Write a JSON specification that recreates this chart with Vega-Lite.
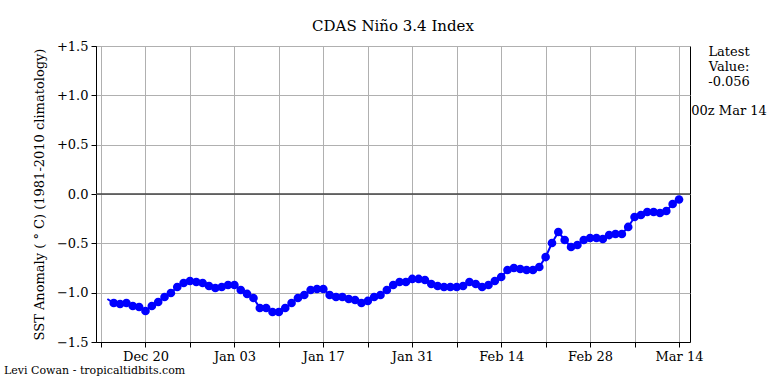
{
  "$schema": "https://vega.github.io/schema/vega-lite/v6.json",
  "width": 594,
  "height": 296,
  "autosize": {"type": "none"},
  "padding": {"left": 96, "top": 46, "right": 78, "bottom": 42},
  "background": "white",
  "title": {"text": "CDAS Niño 3.4 Index", "font": "DejaVu Serif", "fontSize": 15, "fontWeight": "normal", "color": "black", "offset": 6, "anchor": "middle"},
  "config": {
    "font": "DejaVu Serif",
    "view": {"stroke": "black", "strokeWidth": 1},
    "axis": {"gridColor": "#b0b0b0", "gridWidth": 1, "gridOpacity": 1, "domainColor": "black", "tickColor": "black", "tickSize": 5, "labelFont": "DejaVu Serif", "labelFontSize": 13, "labelColor": "black", "titleFont": "DejaVu Serif", "titleFontWeight": "normal", "titleColor": "black"}
  },
  "datasets": {
    "sst": [
    {"date": "2022-12-14", "sst": -1.064},
    {"date": "2022-12-15", "sst": -1.105},
    {"date": "2022-12-16", "sst": -1.115},
    {"date": "2022-12-17", "sst": -1.105},
    {"date": "2022-12-18", "sst": -1.135},
    {"date": "2022-12-19", "sst": -1.145},
    {"date": "2022-12-20", "sst": -1.186},
    {"date": "2022-12-21", "sst": -1.135},
    {"date": "2022-12-22", "sst": -1.095},
    {"date": "2022-12-23", "sst": -1.044},
    {"date": "2022-12-24", "sst": -1.003},
    {"date": "2022-12-25", "sst": -0.943},
    {"date": "2022-12-26", "sst": -0.902},
    {"date": "2022-12-27", "sst": -0.882},
    {"date": "2022-12-28", "sst": -0.892},
    {"date": "2022-12-29", "sst": -0.902},
    {"date": "2022-12-30", "sst": -0.932},
    {"date": "2022-12-31", "sst": -0.953},
    {"date": "2023-01-01", "sst": -0.943},
    {"date": "2023-01-02", "sst": -0.922},
    {"date": "2023-01-03", "sst": -0.922},
    {"date": "2023-01-04", "sst": -0.973},
    {"date": "2023-01-05", "sst": -1.013},
    {"date": "2023-01-06", "sst": -1.054},
    {"date": "2023-01-07", "sst": -1.155},
    {"date": "2023-01-08", "sst": -1.155},
    {"date": "2023-01-09", "sst": -1.196},
    {"date": "2023-01-10", "sst": -1.196},
    {"date": "2023-01-11", "sst": -1.155},
    {"date": "2023-01-12", "sst": -1.105},
    {"date": "2023-01-13", "sst": -1.054},
    {"date": "2023-01-14", "sst": -1.024},
    {"date": "2023-01-15", "sst": -0.973},
    {"date": "2023-01-16", "sst": -0.963},
    {"date": "2023-01-17", "sst": -0.963},
    {"date": "2023-01-18", "sst": -1.024},
    {"date": "2023-01-19", "sst": -1.044},
    {"date": "2023-01-20", "sst": -1.044},
    {"date": "2023-01-21", "sst": -1.064},
    {"date": "2023-01-22", "sst": -1.074},
    {"date": "2023-01-23", "sst": -1.105},
    {"date": "2023-01-24", "sst": -1.084},
    {"date": "2023-01-25", "sst": -1.044},
    {"date": "2023-01-26", "sst": -1.024},
    {"date": "2023-01-27", "sst": -0.973},
    {"date": "2023-01-28", "sst": -0.922},
    {"date": "2023-01-29", "sst": -0.892},
    {"date": "2023-01-30", "sst": -0.892},
    {"date": "2023-01-31", "sst": -0.861},
    {"date": "2023-02-01", "sst": -0.861},
    {"date": "2023-02-02", "sst": -0.872},
    {"date": "2023-02-03", "sst": -0.912},
    {"date": "2023-02-04", "sst": -0.932},
    {"date": "2023-02-05", "sst": -0.943},
    {"date": "2023-02-06", "sst": -0.943},
    {"date": "2023-02-07", "sst": -0.943},
    {"date": "2023-02-08", "sst": -0.932},
    {"date": "2023-02-09", "sst": -0.892},
    {"date": "2023-02-10", "sst": -0.912},
    {"date": "2023-02-11", "sst": -0.943},
    {"date": "2023-02-12", "sst": -0.922},
    {"date": "2023-02-13", "sst": -0.882},
    {"date": "2023-02-14", "sst": -0.841},
    {"date": "2023-02-15", "sst": -0.770},
    {"date": "2023-02-16", "sst": -0.750},
    {"date": "2023-02-17", "sst": -0.760},
    {"date": "2023-02-18", "sst": -0.770},
    {"date": "2023-02-19", "sst": -0.770},
    {"date": "2023-02-20", "sst": -0.740},
    {"date": "2023-02-21", "sst": -0.639},
    {"date": "2023-02-22", "sst": -0.497},
    {"date": "2023-02-23", "sst": -0.385},
    {"date": "2023-02-24", "sst": -0.466},
    {"date": "2023-02-25", "sst": -0.537},
    {"date": "2023-02-26", "sst": -0.517},
    {"date": "2023-02-27", "sst": -0.466},
    {"date": "2023-02-28", "sst": -0.446},
    {"date": "2023-03-01", "sst": -0.446},
    {"date": "2023-03-02", "sst": -0.456},
    {"date": "2023-03-03", "sst": -0.416},
    {"date": "2023-03-04", "sst": -0.405},
    {"date": "2023-03-05", "sst": -0.405},
    {"date": "2023-03-06", "sst": -0.334},
    {"date": "2023-03-07", "sst": -0.233},
    {"date": "2023-03-08", "sst": -0.213},
    {"date": "2023-03-09", "sst": -0.182},
    {"date": "2023-03-10", "sst": -0.182},
    {"date": "2023-03-11", "sst": -0.193},
    {"date": "2023-03-12", "sst": -0.172},
    {"date": "2023-03-13", "sst": -0.101},
    {"date": "2023-03-14", "sst": -0.056}
    ],
    "latest": [{"t": ["Latest", "Value:", "-0.056"]}],
    "stamp": [{"t": "00z Mar 14"}],
    "credit": [{"t": "Levi Cowan - tropicaltidbits.com"}],
    "zero": [{"z": 0}]
  },
  "layer": [
    {"data": {"name": "zero"}, "mark": {"type": "rule", "color": "#444444", "strokeWidth": 1.5},
     "encoding": {"y": {"field": "z", "type": "quantitative", "title": "SST Anomaly ( ° C) (1981-2010 climatology)"}}},
    {"data": {"name": "sst"},
     "mark": {"type": "line", "color": "#0000ff", "strokeWidth": 2},
     "encoding": {
      "x": {
        "field": "date", "type": "temporal",
        "scale": {"type": "utc", "domain": [
          {"year": 2022, "month": 12, "date": 12, "hours": 5, "utc": true},
          {"year": 2023, "month": 3, "date": 15, "hours": 17, "minutes": 30, "utc": true}
        ]},
        "axis": {
          "title": null,
          "grid": true,
          "values": [
            {"year": 2022, "month": 12, "date": 13, "utc": true},
            {"year": 2022, "month": 12, "date": 20, "utc": true},
            {"year": 2022, "month": 12, "date": 27, "utc": true},
            {"year": 2023, "month": 1, "date": 3, "utc": true},
            {"year": 2023, "month": 1, "date": 10, "utc": true},
            {"year": 2023, "month": 1, "date": 17, "utc": true},
            {"year": 2023, "month": 1, "date": 24, "utc": true},
            {"year": 2023, "month": 1, "date": 31, "utc": true},
            {"year": 2023, "month": 2, "date": 7, "utc": true},
            {"year": 2023, "month": 2, "date": 14, "utc": true},
            {"year": 2023, "month": 2, "date": 21, "utc": true},
            {"year": 2023, "month": 2, "date": 28, "utc": true},
            {"year": 2023, "month": 3, "date": 7, "utc": true},
            {"year": 2023, "month": 3, "date": 14, "utc": true}
          ],
          "labelExpr": "indexof([3, 14, 17, 20, 28, 31], utcdate(datum.value)) >= 0 ? utcFormat(datum.value, '%b %d') : ''",
          "labelPadding": 3,
          "labelFlush": false,
          "labelOverlap": false
        }
      },
      "y": {
        "field": "sst", "type": "quantitative",
        "scale": {"domain": [-1.5, 1.5], "nice": false, "zero": false},
        "axis": {
          "title": "SST Anomaly ( ° C) (1981-2010 climatology)",
          "titleFontSize": 13,
          "titlePadding": 10,
          "values": [-1.5, -1, -0.5, 0, 0.5, 1, 1.5],
          "labelExpr": "datum.value > 0 ? '+' + format(datum.value, '.1f') : format(datum.value, '.1f')",
          "labelPadding": 3,
          "grid": true
        }
      }
     }
    },
    {"data": {"name": "sst"}, "transform": [{"filter": "!(utcmonth(datum.date) == 11 && utcdate(datum.date) == 14)"}], "mark": {"type": "point", "filled": true, "color": "#0000ff", "opacity": 1, "size": 75, "shape": "circle"},
     "encoding": {"x": {"field": "date", "type": "temporal"}, "y": {"field": "sst", "type": "quantitative"}}},
    {"data": {"name": "latest"}, "mark": {"type": "text", "align": "center", "baseline": "top", "fontSize": 13, "lineHeight": 15, "font": "DejaVu Serif", "color": "black"},
     "encoding": {"x": {"datum": {"year": 2023, "month": 3, "date": 21, "hours": 21, "utc": true}, "type": "temporal"}, "y": {"datum": 1.5, "type": "quantitative"}, "text": {"field": "t"}}},
    {"data": {"name": "stamp"}, "mark": {"type": "text", "align": "center", "baseline": "middle", "fontSize": 13, "font": "DejaVu Serif", "color": "black"},
     "encoding": {"x": {"datum": {"year": 2023, "month": 3, "date": 21, "hours": 21, "utc": true}, "type": "temporal"}, "y": {"datum": 0.841, "type": "quantitative"}, "text": {"field": "t"}}},
    {"data": {"name": "credit"}, "mark": {"type": "text", "align": "left", "baseline": "middle", "fontSize": 11, "font": "DejaVu Serif", "color": "black"},
     "encoding": {"x": {"datum": {"year": 2022, "month": 11, "date": 27, "hours": 17, "minutes": 30, "utc": true}, "type": "temporal"}, "y": {"datum": -1.79, "type": "quantitative"}, "text": {"field": "t"}}}
  ]
}
